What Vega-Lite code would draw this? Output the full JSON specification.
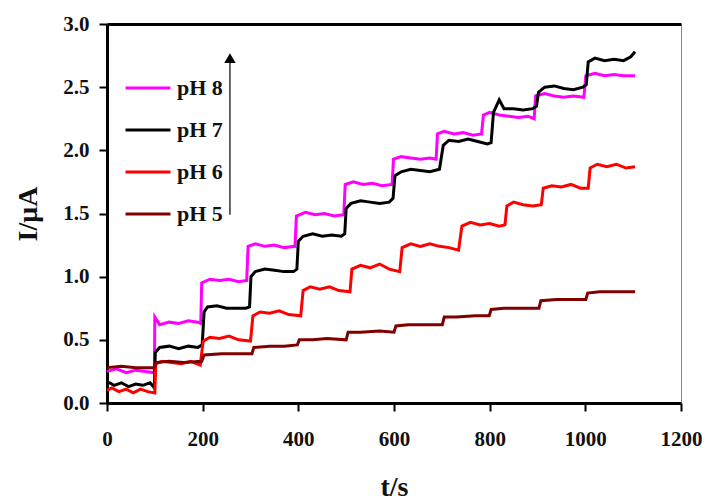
{
  "$schema": "https://vega.github.io/schema/vega-lite/v6.json",
  "width": 574,
  "height": 379,
  "autosize": {"type": "none"},
  "padding": {"left": 107, "top": 24, "right": 28, "bottom": 98},
  "background": "white",
  "config": {
    "view": {"stroke": "#888", "strokeWidth": 1},
    "font": "Liberation Serif",
    "axis": {
      "labelFont": "Liberation Serif", "labelFontWeight": "bold", "labelFontSize": 21, "labelColor": "#111",
      "titleFont": "Liberation Serif", "titleFontWeight": "bold", "titleColor": "#111", "titleFontSize": 28,
      "domainColor": "#000", "domainWidth": 3, "tickColor": "#000", "tickWidth": 2, "tickSize": 8, "grid": false
    },
    "legend": {
      "labelFont": "Liberation Serif", "labelFontWeight": "bold", "labelFontSize": 22, "labelColor": "#111"
    }
  },
  "datasets": {
    "curves": [
      {"s":"pH 8","t":0,"I":0.25},{"s":"pH 8","t":20,"I":0.27},{"s":"pH 8","t":40,"I":0.24},{"s":"pH 8","t":60,"I":0.26},{"s":"pH 8","t":80,"I":0.25},{"s":"pH 8","t":99,"I":0.24},
      {"s":"pH 8","t":100,"I":0.68},{"s":"pH 8","t":110,"I":0.62},{"s":"pH 8","t":130,"I":0.64},{"s":"pH 8","t":150,"I":0.63},{"s":"pH 8","t":170,"I":0.65},{"s":"pH 8","t":190,"I":0.64},{"s":"pH 8","t":196,"I":0.63},
      {"s":"pH 8","t":198,"I":0.95},{"s":"pH 8","t":215,"I":0.98},{"s":"pH 8","t":235,"I":0.97},{"s":"pH 8","t":255,"I":0.98},{"s":"pH 8","t":275,"I":0.96},{"s":"pH 8","t":292,"I":0.97},
      {"s":"pH 8","t":295,"I":1.24},{"s":"pH 8","t":310,"I":1.26},{"s":"pH 8","t":330,"I":1.24},{"s":"pH 8","t":350,"I":1.25},{"s":"pH 8","t":370,"I":1.23},{"s":"pH 8","t":393,"I":1.24},
      {"s":"pH 8","t":396,"I":1.48},{"s":"pH 8","t":415,"I":1.51},{"s":"pH 8","t":435,"I":1.49},{"s":"pH 8","t":455,"I":1.50},{"s":"pH 8","t":475,"I":1.48},{"s":"pH 8","t":495,"I":1.49},
      {"s":"pH 8","t":498,"I":1.73},{"s":"pH 8","t":515,"I":1.75},{"s":"pH 8","t":535,"I":1.73},{"s":"pH 8","t":555,"I":1.74},{"s":"pH 8","t":575,"I":1.72},{"s":"pH 8","t":596,"I":1.73},
      {"s":"pH 8","t":599,"I":1.93},{"s":"pH 8","t":615,"I":1.95},{"s":"pH 8","t":635,"I":1.94},{"s":"pH 8","t":655,"I":1.93},{"s":"pH 8","t":675,"I":1.94},{"s":"pH 8","t":688,"I":1.93},
      {"s":"pH 8","t":691,"I":2.13},{"s":"pH 8","t":705,"I":2.15},{"s":"pH 8","t":725,"I":2.13},{"s":"pH 8","t":745,"I":2.14},{"s":"pH 8","t":765,"I":2.12},{"s":"pH 8","t":783,"I":2.13},
      {"s":"pH 8","t":787,"I":2.28},{"s":"pH 8","t":800,"I":2.30},{"s":"pH 8","t":820,"I":2.28},{"s":"pH 8","t":840,"I":2.27},{"s":"pH 8","t":860,"I":2.26},{"s":"pH 8","t":880,"I":2.27},{"s":"pH 8","t":893,"I":2.25},
      {"s":"pH 8","t":896,"I":2.43},{"s":"pH 8","t":915,"I":2.45},{"s":"pH 8","t":935,"I":2.43},{"s":"pH 8","t":955,"I":2.42},{"s":"pH 8","t":975,"I":2.43},{"s":"pH 8","t":997,"I":2.42},
      {"s":"pH 8","t":1001,"I":2.59},{"s":"pH 8","t":1020,"I":2.61},{"s":"pH 8","t":1040,"I":2.59},{"s":"pH 8","t":1060,"I":2.60},{"s":"pH 8","t":1080,"I":2.59},{"s":"pH 8","t":1104,"I":2.59},

      {"s":"pH 7","t":0,"I":0.17},{"s":"pH 7","t":15,"I":0.14},{"s":"pH 7","t":30,"I":0.16},{"s":"pH 7","t":45,"I":0.13},{"s":"pH 7","t":60,"I":0.15},{"s":"pH 7","t":75,"I":0.14},{"s":"pH 7","t":90,"I":0.16},{"s":"pH 7","t":99,"I":0.12},
      {"s":"pH 7","t":101,"I":0.40},{"s":"pH 7","t":110,"I":0.44},{"s":"pH 7","t":130,"I":0.45},{"s":"pH 7","t":150,"I":0.43},{"s":"pH 7","t":170,"I":0.45},{"s":"pH 7","t":190,"I":0.44},{"s":"pH 7","t":199,"I":0.46},
      {"s":"pH 7","t":203,"I":0.72},{"s":"pH 7","t":210,"I":0.76},{"s":"pH 7","t":230,"I":0.77},{"s":"pH 7","t":250,"I":0.75},{"s":"pH 7","t":270,"I":0.75},{"s":"pH 7","t":290,"I":0.75},{"s":"pH 7","t":298,"I":0.76},
      {"s":"pH 7","t":301,"I":1.00},{"s":"pH 7","t":310,"I":1.04},{"s":"pH 7","t":330,"I":1.06},{"s":"pH 7","t":350,"I":1.05},{"s":"pH 7","t":370,"I":1.04},{"s":"pH 7","t":390,"I":1.04},{"s":"pH 7","t":397,"I":1.06},
      {"s":"pH 7","t":400,"I":1.28},{"s":"pH 7","t":410,"I":1.32},{"s":"pH 7","t":430,"I":1.34},{"s":"pH 7","t":450,"I":1.32},{"s":"pH 7","t":470,"I":1.33},{"s":"pH 7","t":490,"I":1.32},{"s":"pH 7","t":497,"I":1.34},
      {"s":"pH 7","t":500,"I":1.54},{"s":"pH 7","t":510,"I":1.58},{"s":"pH 7","t":530,"I":1.60},{"s":"pH 7","t":550,"I":1.59},{"s":"pH 7","t":570,"I":1.58},{"s":"pH 7","t":590,"I":1.59},{"s":"pH 7","t":598,"I":1.62},
      {"s":"pH 7","t":602,"I":1.80},{"s":"pH 7","t":615,"I":1.83},{"s":"pH 7","t":635,"I":1.85},{"s":"pH 7","t":655,"I":1.84},{"s":"pH 7","t":675,"I":1.83},{"s":"pH 7","t":695,"I":1.85},
      {"s":"pH 7","t":703,"I":2.04},{"s":"pH 7","t":715,"I":2.08},{"s":"pH 7","t":735,"I":2.07},{"s":"pH 7","t":755,"I":2.09},{"s":"pH 7","t":775,"I":2.07},{"s":"pH 7","t":795,"I":2.05},{"s":"pH 7","t":803,"I":2.06},
      {"s":"pH 7","t":808,"I":2.30},{"s":"pH 7","t":820,"I":2.40},{"s":"pH 7","t":830,"I":2.33},{"s":"pH 7","t":850,"I":2.33},{"s":"pH 7","t":870,"I":2.32},{"s":"pH 7","t":890,"I":2.33},{"s":"pH 7","t":898,"I":2.35},
      {"s":"pH 7","t":902,"I":2.46},{"s":"pH 7","t":915,"I":2.50},{"s":"pH 7","t":935,"I":2.51},{"s":"pH 7","t":955,"I":2.49},{"s":"pH 7","t":975,"I":2.48},{"s":"pH 7","t":995,"I":2.50},{"s":"pH 7","t":1002,"I":2.52},
      {"s":"pH 7","t":1006,"I":2.70},{"s":"pH 7","t":1020,"I":2.73},{"s":"pH 7","t":1040,"I":2.71},{"s":"pH 7","t":1060,"I":2.72},{"s":"pH 7","t":1080,"I":2.71},{"s":"pH 7","t":1095,"I":2.74},{"s":"pH 7","t":1104,"I":2.78},

      {"s":"pH 6","t":0,"I":0.10},{"s":"pH 6","t":10,"I":0.12},{"s":"pH 6","t":25,"I":0.09},{"s":"pH 6","t":40,"I":0.11},{"s":"pH 6","t":55,"I":0.08},{"s":"pH 6","t":70,"I":0.11},{"s":"pH 6","t":85,"I":0.09},{"s":"pH 6","t":100,"I":0.08},
      {"s":"pH 6","t":102,"I":0.31},{"s":"pH 6","t":115,"I":0.33},{"s":"pH 6","t":135,"I":0.32},{"s":"pH 6","t":155,"I":0.31},{"s":"pH 6","t":175,"I":0.33},{"s":"pH 6","t":195,"I":0.30},
      {"s":"pH 6","t":201,"I":0.49},{"s":"pH 6","t":215,"I":0.52},{"s":"pH 6","t":235,"I":0.51},{"s":"pH 6","t":255,"I":0.53},{"s":"pH 6","t":275,"I":0.50},{"s":"pH 6","t":300,"I":0.49},
      {"s":"pH 6","t":305,"I":0.69},{"s":"pH 6","t":320,"I":0.72},{"s":"pH 6","t":340,"I":0.71},{"s":"pH 6","t":360,"I":0.73},{"s":"pH 6","t":380,"I":0.70},{"s":"pH 6","t":405,"I":0.69},
      {"s":"pH 6","t":410,"I":0.89},{"s":"pH 6","t":425,"I":0.92},{"s":"pH 6","t":445,"I":0.90},{"s":"pH 6","t":465,"I":0.92},{"s":"pH 6","t":485,"I":0.89},{"s":"pH 6","t":508,"I":0.88},
      {"s":"pH 6","t":512,"I":1.06},{"s":"pH 6","t":530,"I":1.09},{"s":"pH 6","t":550,"I":1.07},{"s":"pH 6","t":570,"I":1.10},{"s":"pH 6","t":590,"I":1.06},{"s":"pH 6","t":612,"I":1.04},
      {"s":"pH 6","t":617,"I":1.23},{"s":"pH 6","t":635,"I":1.26},{"s":"pH 6","t":655,"I":1.24},{"s":"pH 6","t":675,"I":1.26},{"s":"pH 6","t":695,"I":1.24},{"s":"pH 6","t":715,"I":1.23},{"s":"pH 6","t":735,"I":1.21},
      {"s":"pH 6","t":742,"I":1.40},{"s":"pH 6","t":760,"I":1.43},{"s":"pH 6","t":780,"I":1.41},{"s":"pH 6","t":800,"I":1.42},{"s":"pH 6","t":820,"I":1.40},{"s":"pH 6","t":832,"I":1.41},
      {"s":"pH 6","t":836,"I":1.56},{"s":"pH 6","t":850,"I":1.59},{"s":"pH 6","t":870,"I":1.57},{"s":"pH 6","t":890,"I":1.56},{"s":"pH 6","t":908,"I":1.57},
      {"s":"pH 6","t":912,"I":1.70},{"s":"pH 6","t":930,"I":1.72},{"s":"pH 6","t":950,"I":1.71},{"s":"pH 6","t":970,"I":1.73},{"s":"pH 6","t":990,"I":1.70},{"s":"pH 6","t":1006,"I":1.70},
      {"s":"pH 6","t":1010,"I":1.86},{"s":"pH 6","t":1025,"I":1.89},{"s":"pH 6","t":1045,"I":1.87},{"s":"pH 6","t":1065,"I":1.89},{"s":"pH 6","t":1085,"I":1.86},{"s":"pH 6","t":1104,"I":1.87},

      {"s":"pH 5","t":0,"I":0.28},{"s":"pH 5","t":30,"I":0.29},{"s":"pH 5","t":60,"I":0.28},{"s":"pH 5","t":99,"I":0.28},
      {"s":"pH 5","t":102,"I":0.32},{"s":"pH 5","t":130,"I":0.33},{"s":"pH 5","t":160,"I":0.32},{"s":"pH 5","t":198,"I":0.33},
      {"s":"pH 5","t":203,"I":0.38},{"s":"pH 5","t":240,"I":0.39},{"s":"pH 5","t":270,"I":0.39},{"s":"pH 5","t":303,"I":0.39},
      {"s":"pH 5","t":307,"I":0.44},{"s":"pH 5","t":340,"I":0.45},{"s":"pH 5","t":370,"I":0.45},{"s":"pH 5","t":398,"I":0.46},
      {"s":"pH 5","t":402,"I":0.50},{"s":"pH 5","t":430,"I":0.50},{"s":"pH 5","t":460,"I":0.51},{"s":"pH 5","t":500,"I":0.50},
      {"s":"pH 5","t":504,"I":0.56},{"s":"pH 5","t":530,"I":0.56},{"s":"pH 5","t":570,"I":0.57},{"s":"pH 5","t":600,"I":0.56},
      {"s":"pH 5","t":604,"I":0.61},{"s":"pH 5","t":630,"I":0.62},{"s":"pH 5","t":670,"I":0.62},{"s":"pH 5","t":701,"I":0.62},
      {"s":"pH 5","t":705,"I":0.68},{"s":"pH 5","t":730,"I":0.68},{"s":"pH 5","t":770,"I":0.69},{"s":"pH 5","t":799,"I":0.69},
      {"s":"pH 5","t":803,"I":0.74},{"s":"pH 5","t":830,"I":0.75},{"s":"pH 5","t":870,"I":0.75},{"s":"pH 5","t":903,"I":0.75},
      {"s":"pH 5","t":907,"I":0.81},{"s":"pH 5","t":940,"I":0.82},{"s":"pH 5","t":970,"I":0.82},{"s":"pH 5","t":1001,"I":0.82},
      {"s":"pH 5","t":1005,"I":0.87},{"s":"pH 5","t":1030,"I":0.88},{"s":"pH 5","t":1070,"I":0.88},{"s":"pH 5","t":1104,"I":0.88}
    ],
    "arrow": [{"t": 257, "I": 1.49, "I2": 2.70}],
    "arrowhead": [{"t": 257, "I": 2.73}]
  },
  "layer": [
    {
      "data": {"name": "curves"},
      "mark": {"type": "line", "strokeWidth": 3},
      "encoding": {
        "x": {"field": "t", "type": "quantitative", "scale": {"domain": [0, 1200], "nice": false},
              "axis": {"values": [0, 200, 400, 600, 800, 1000, 1200], "format": "d", "title": "t/s", "labelFont": "Liberation Serif", "labelFontWeight": "bold", "labelFlush": false, "labelPadding": 17, "titlePadding": 24}},
        "y": {"field": "I", "type": "quantitative", "scale": {"domain": [0, 3], "nice": false},
              "axis": {"values": [0, 0.5, 1, 1.5, 2, 2.5, 3], "format": ".1f", "title": "I/μA", "labelFont": "Liberation Serif", "labelFontWeight": "bold", "labelFlush": false, "labelPadding": 10, "titlePadding": 20}},
        "color": {"field": "s", "type": "nominal",
                  "scale": {"domain": ["pH 8", "pH 7", "pH 6", "pH 5"], "range": ["#ff00ff", "#000000", "#ff0000", "#800000"]},
                  "legend": {"orient": "none", "legendX": 17, "legendY": 40, "title": null, "symbolType": "stroke", "symbolStrokeWidth": 3, "symbolSize": 2025, "labelOffset": 5, "rowPadding": 7, "padding": 0}}
      }
    },
    {
      "data": {"name": "arrow"},
      "mark": {"type": "rule", "color": "#333", "strokeWidth": 1.5},
      "encoding": {
        "x": {"field": "t", "type": "quantitative", "axis": {"orient": "top", "labels": false, "ticks": false, "title": null, "domainWidth": 3}},
        "y": {"field": "I", "type": "quantitative"},
        "y2": {"field": "I2"}
      }
    },
    {
      "data": {"name": "arrowhead"},
      "mark": {"type": "point", "shape": "triangle-up", "filled": true, "color": "#000", "size": 130, "opacity": 1},
      "encoding": {
        "x": {"field": "t", "type": "quantitative", "axis": null},
        "y": {"field": "I", "type": "quantitative"}
      }
    }
  ],
  "resolve": {"axis": {"x": "independent"}}
}
